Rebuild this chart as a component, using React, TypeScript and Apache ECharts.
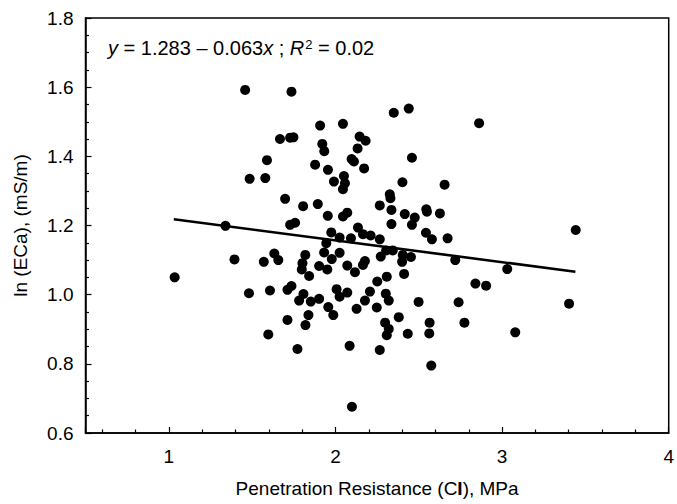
import React, { useEffect, useRef } from "react";
import * as echarts from "echarts";

// Penetration resistance (CI), MPa
const penetration: number[] = [
  1.458, 1.736, 1.908, 2.045, 1.667, 1.728, 1.748, 1.921, 1.933, 2.145,
  2.181, 2.133, 1.589, 2.097, 2.111, 2.172, 1.878, 1.955, 1.485, 1.579,
  1.991, 2.051, 2.045, 2.057, 1.698, 1.806, 1.894, 1.954, 2.045, 2.071,
  2.266, 1.340, 1.728, 1.758, 2.135, 2.165, 2.211, 2.266, 1.975, 1.945,
  1.932, 2.025, 2.093, 2.025, 1.978, 1.819, 1.633, 1.394, 1.570, 2.177,
  2.272, 1.035, 1.657, 1.802, 1.798, 1.842, 1.902, 1.951, 2.071, 2.117,
  2.165, 2.308, 2.251, 1.481, 1.607, 1.712, 1.736, 1.808, 1.782, 1.852,
  1.902, 2.007, 2.025, 2.071, 2.207, 2.177, 2.302, 2.320, 1.957, 1.987,
  2.127, 2.248, 1.838, 1.712, 1.820, 1.597, 1.772, 2.085, 2.266, 2.298,
  2.308, 2.099, 2.320, 2.350, 2.440, 2.862, 2.459, 2.402, 2.655, 2.326,
  2.330, 2.336, 2.416, 2.476, 2.545, 2.549, 2.627, 2.336, 2.459, 2.543,
  2.579, 2.673, 3.442, 2.304, 2.344, 2.404, 2.453, 2.719, 2.400, 3.031,
  2.412, 2.840, 2.904, 2.499, 2.739, 3.402, 2.380, 2.434, 2.565, 2.563,
  2.774, 3.079, 2.575,
];

// ln (ECa), (mS/m)
const lnECa: number[] = [
  1.592, 1.587, 1.489, 1.494, 1.450, 1.454, 1.455, 1.436, 1.415, 1.457,
  1.445, 1.423, 1.389, 1.392, 1.385, 1.365, 1.376, 1.361, 1.335, 1.337,
  1.327, 1.343, 1.305, 1.322, 1.277, 1.256, 1.262, 1.228, 1.226, 1.237,
  1.258, 1.199, 1.202, 1.208, 1.194, 1.175, 1.171, 1.160, 1.180, 1.149,
  1.122, 1.165, 1.163, 1.121, 1.103, 1.115, 1.119, 1.102, 1.095, 1.097,
  1.110, 1.050, 1.100, 1.091, 1.073, 1.054, 1.083, 1.073, 1.084, 1.065,
  1.086, 1.052, 1.038, 1.004, 1.012, 1.014, 1.025, 1.002, 0.983, 0.980,
  0.988, 1.016, 0.994, 1.006, 1.009, 0.983, 1.003, 0.983, 0.964, 0.941,
  0.959, 0.963, 0.941, 0.927, 0.912, 0.885, 0.843, 0.852, 0.840, 0.919,
  0.883, 0.676, 0.901, 1.526, 1.538, 1.496, 1.396, 1.325, 1.318, 1.290,
  1.279, 1.245, 1.233, 1.223, 1.247, 1.240, 1.235, 1.204, 1.202, 1.179,
  1.160, 1.163, 1.187, 1.128, 1.128, 1.115, 1.109, 1.100, 1.095, 1.074,
  1.060, 1.032, 1.026, 0.979, 0.978, 0.974, 0.935, 0.887, 0.919, 0.888,
  0.919, 0.891, 0.795,
];

// Fitted line y = 1.283 - 0.063x, drawn across the observed CI range
const fitIntercept = 1.283;
const fitSlope = -0.063;
const fitRange: number[] = [1.03, 3.44];

const yTicks: number[] = [0.6, 0.8, 1.0, 1.2, 1.4, 1.6, 1.8];
const xTickLabels: string[] = ["1", "2", "3", "4"];

const FONT = "'Liberation Sans', Arial, Helvetica, sans-serif";

export default function App() {
  const ref = useRef<HTMLDivElement>(null);

  useEffect(() => {
    if (!ref.current) return;
    const chart = echarts.init(ref.current, null, { renderer: "svg" });
    const points = penetration.map((x, i) => [x, lnECa[i]]);
    const fitLine = fitRange.map((x) => [x, fitIntercept + fitSlope * x]);

    chart.setOption({
      animation: false,
      backgroundColor: "#fff",
      title: {
        text: "{i|y} = 1.283 – 0.063{i|x} ; {i|R}{sup|2} = 0.02",
        left: 108,
        top: 38,
        padding: 0,
        textStyle: {
          fontSize: 20,
          fontWeight: "normal",
          color: "#000",
          fontFamily: FONT,
          rich: {
            i: { fontStyle: "italic", fontSize: 20, color: "#000", fontFamily: FONT },
            sup: { fontSize: 13, color: "#000", fontFamily: FONT, verticalAlign: "top", padding: [0, 0, 0, 1] },
          },
        },
      },
      grid: {
        left: 85.5,
        right: 6,
        top: 18,
        bottom: 71,
        show: true,
        borderColor: "#000",
        borderWidth: 1.5,
        backgroundColor: "transparent",
      },
      xAxis: {
        type: "value",
        min: 0.5,
        max: 4,
        splitNumber: 4,
        name: "Penetration Resistance (C{b|I}), MPa",
        nameLocation: "middle",
        nameGap: 46,
        nameTextStyle: {
          fontSize: 19,
          color: "#000",
          fontFamily: FONT,
          rich: { b: { fontSize: 19, fontWeight: "bold", color: "#000", fontFamily: FONT } },
        },
        axisLine: { show: true, lineStyle: { color: "#000", width: 1.5 } },
        axisTick: { show: true, inside: true, length: 6, lineStyle: { color: "#000", width: 1.2 } },
        minorTick: { show: true, splitNumber: 5, length: 3.5, lineStyle: { color: "#000", width: 1.2 } },
        splitLine: { show: false },
        minorSplitLine: { show: false },
        axisLabel: {
          showMinLabel: false,
          margin: 14,
          fontSize: 19,
          color: "#000",
          fontFamily: FONT,
          formatter: (v: number) => {
            const s = String(Math.round(v));
            return Math.abs(v - Math.round(v)) < 1e-6 && xTickLabels.includes(s) ? s : "";
          },
        },
      },
      yAxis: {
        type: "value",
        min: yTicks[0],
        max: yTicks[yTicks.length - 1],
        interval: 0.2,
        name: "ln (ECa), (mS/m)",
        nameLocation: "middle",
        nameGap: 56,
        nameTextStyle: { fontSize: 19, color: "#000", fontFamily: FONT },
        axisLine: { show: true, lineStyle: { color: "#000", width: 1.5 } },
        axisTick: { show: true, inside: true, length: 6, lineStyle: { color: "#000", width: 1.2 } },
        minorTick: { show: true, splitNumber: 4, length: 3.5, lineStyle: { color: "#000", width: 1.2 } },
        splitLine: { show: false },
        minorSplitLine: { show: false },
        axisLabel: {
          margin: 12,
          fontSize: 19,
          color: "#000",
          fontFamily: FONT,
          formatter: (v: number) => v.toFixed(1),
        },
      },
      series: [
        {
          type: "line",
          data: fitLine,
          symbol: "none",
          lineStyle: { color: "#000", width: 2.6 },
          silent: true,
          z: 2,
        },
        {
          type: "scatter",
          data: points,
          symbol: "circle",
          symbolSize: 10,
          itemStyle: { color: "#000", opacity: 1 },
          z: 3,
        },
      ],
    });

    return () => chart.dispose();
  }, []);

  return (
    <div
      ref={ref}
      style={{ position: "fixed", left: 0, top: 0, width: 677, height: 504, background: "#fff" }}
    />
  );
}
